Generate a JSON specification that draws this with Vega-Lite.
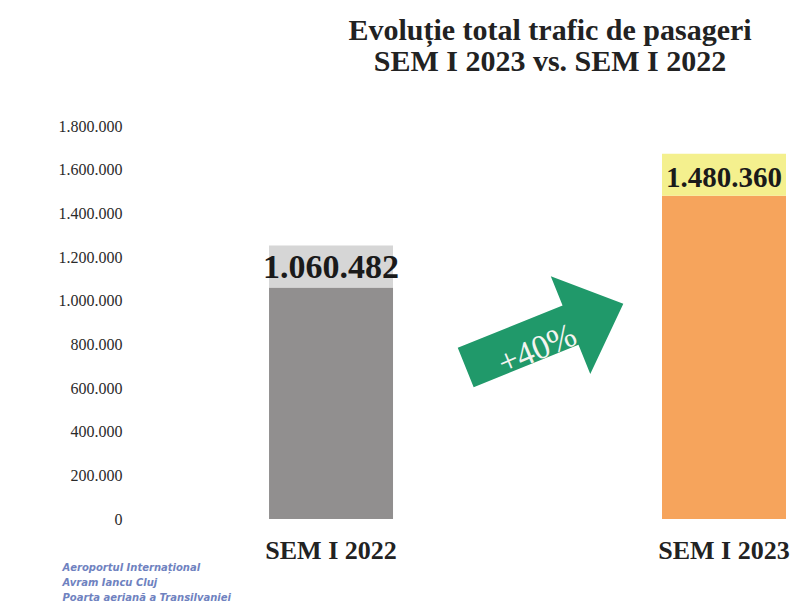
{
  "$schema": "https://vega.github.io/schema/vega-lite/v6.json",
  "autosize": "none",
  "width": 660,
  "height": 393,
  "padding": {"left": 130, "top": 126, "right": 1, "bottom": 84},
  "background": "#ffffff",
  "config": {
    "view": {"stroke": null},
    "locale": {"number": {"decimal": ",", "thousands": ".", "grouping": [3], "currency": ["", " lei"]}}
  },
  "title": {
    "text": ["Evoluție total trafic de pasageri", "SEM I 2023 vs. SEM I 2022"],
    "font": "Liberation Serif",
    "fontSize": 30,
    "fontWeight": "bold",
    "color": "#222222",
    "lineHeight": 31,
    "anchor": "middle",
    "dx": 90,
    "offset": 41
  },
  "data": {
    "values": [
      {"cat": "SEM I 2022", "value": 1060482},
      {"cat": "SEM I 2023", "value": 1480360}
    ]
  },
  "encoding": {
    "x": {
      "field": "cat",
      "type": "nominal",
      "scale": {"domain": ["SEM I 2022", "+40%", "SEM I 2023"], "paddingInner": 0.369, "paddingOuter": 0.364, "align": 0.972},
      "axis": {
        "title": null,
        "labelAngle": 0,
        "domain": false,
        "ticks": false,
        "labelFont": "Liberation Serif",
        "labelFontWeight": "bold",
        "labelFontSize": 26,
        "labelColor": "#222222",
        "labelPadding": 18,
        "labelExpr": "datum.label == '+40%' ? '' : datum.label"
      }
    }
  },
  "layer": [
    {
      "mark": {"type": "bar"},
      "encoding": {
        "y": {
          "field": "value",
          "type": "quantitative",
          "scale": {"domain": [0, 1800000], "nice": false},
          "axis": {
            "values": [0, 200000, 400000, 600000, 800000, 1000000, 1200000, 1400000, 1600000, 1800000],
            "format": ",d",
            "domain": false,
            "ticks": false,
            "grid": false,
            "labelFont": "Liberation Serif",
            "labelFontSize": 16,
            "labelColor": "#2a2a2a",
            "labelPadding": 8,
            "title": ["Aeroportul Internațional", "Avram Iancu Cluj", "Poarta aeriană a Transilvaniei"],
            "titleAngle": 0,
            "titleAlign": "left",
            "titleBaseline": "middle",
            "titleX": -68,
            "titleY": 441,
            "titleFont": "DejaVu Sans",
            "titleFontSize": 10,
            "titleFontWeight": "bold",
            "titleFontStyle": "italic",
            "titleColor": "#6f82c0",
            "titleLineHeight": 15
          }
        },
        "color": {
          "field": "cat",
          "type": "nominal",
          "scale": {"domain": ["SEM I 2022", "SEM I 2023"], "range": ["#918f8f", "#f6a45c"]},
          "legend": null
        }
      }
    },
    {
      "mark": {"type": "bar", "y2Offset": -42},
      "encoding": {
        "y": {"field": "value", "type": "quantitative"},
        "y2": {"field": "value"},
        "fill": {
          "field": "cat",
          "type": "nominal",
          "scale": {"domain": ["SEM I 2022", "SEM I 2023"], "range": ["#d6d6d6", "#f4f08e"]},
          "legend": null
        }
      }
    },
    {
      "mark": {"type": "text", "dy": -9, "baseline": "alphabetic", "font": "Liberation Serif", "fontWeight": "bold", "color": "#1a1a1a"},
      "encoding": {
        "y": {"field": "value", "type": "quantitative"},
        "text": {"field": "value", "type": "quantitative", "format": ",d"},
        "size": {"condition": {"test": "datum.cat == 'SEM I 2022'", "value": 34}, "value": 29}
      }
    },
    {
      "data": {"values": [{"change": "+40%"}]},
      "mark": {
        "type": "point",
        "shape": "M -1 -0.25 L 0.33 -0.25 L 0.33 -0.62 L 1 0 L 0.33 0.62 L 0.33 0.25 L -1 0.25 Z",
        "size": 28900,
        "angle": 338,
        "filled": true,
        "opacity": 1,
        "color": "#20996a",
        "strokeWidth": 0,
        "xOffset": 17
      },
      "encoding": {
        "x": {"field": "change", "type": "nominal"},
        "y": {"datum": 840000, "type": "quantitative"}
      }
    },
    {
      "data": {"values": [{"change": "+40%"}]},
      "mark": {
        "type": "text",
        "font": "Liberation Serif",
        "fontSize": 34,
        "angle": 337,
        "color": "#f4f4f0",
        "xOffset": 10
      },
      "encoding": {
        "x": {"field": "change", "type": "nominal"},
        "y": {"datum": 775000, "type": "quantitative"},
        "text": {"field": "change"}
      }
    }
  ],
  "resolve": {"scale": {"fill": "independent", "color": "independent"}}
}
